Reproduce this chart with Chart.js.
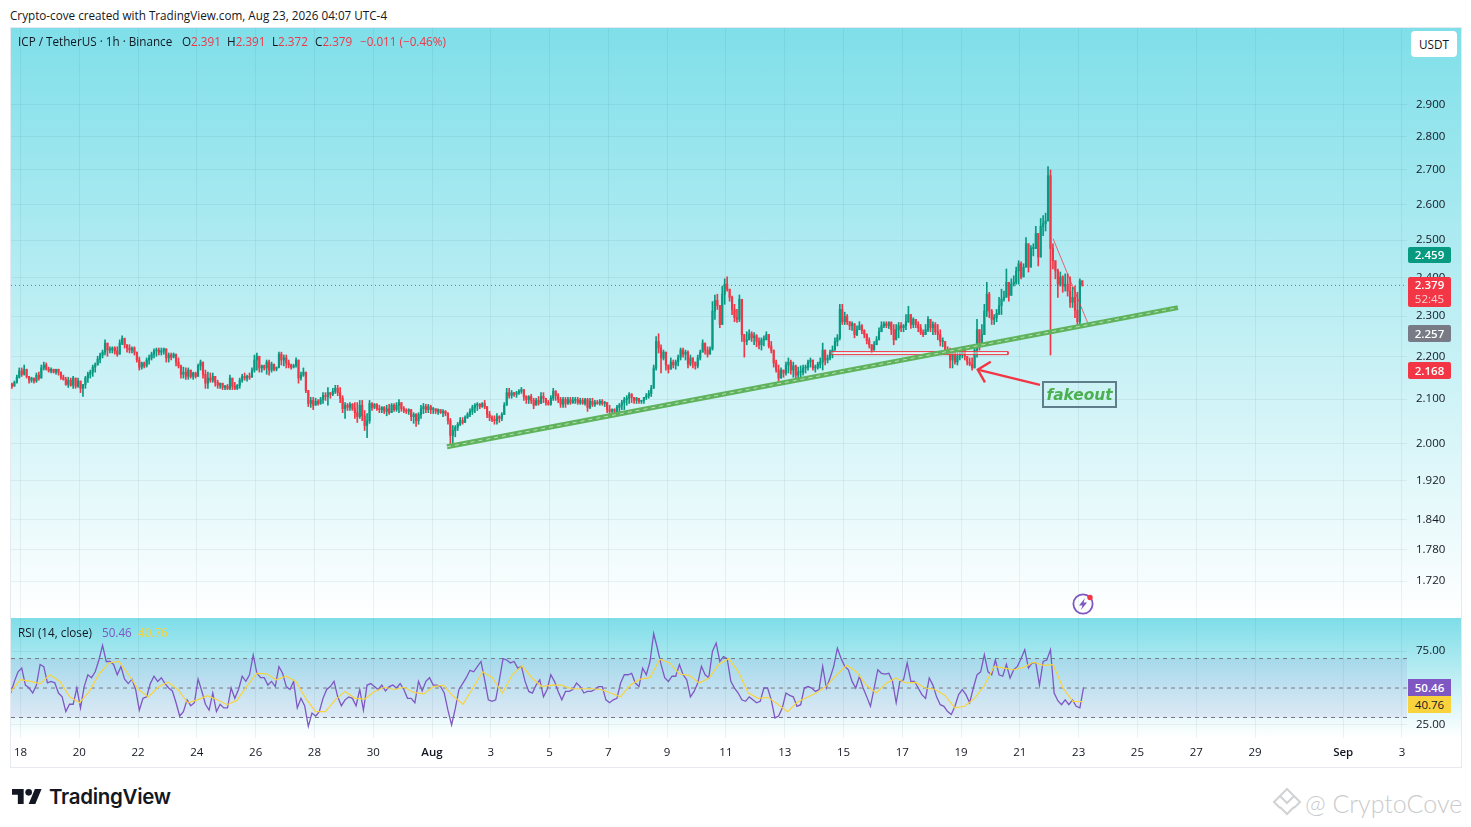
<!DOCTYPE html>
<html><head><meta charset="utf-8"><title>ICP / TetherUS</title>
<script src="https://cdn.jsdelivr.net/npm/chart.js@4"></script>
<style>
html,body{margin:0;padding:0;background:#fff;width:1471px;height:827px;overflow:hidden;font-family:"Open Sans","Noto Sans",sans-serif;color:#131722}
.abs{position:absolute;white-space:nowrap}
#frame{position:absolute;left:10px;top:27px;width:1450px;height:739px;border:1px solid #e6e9f0}
#mainBg{position:absolute;left:11px;top:28px;width:1450px;height:589px;background:linear-gradient(#7fdfe9,#ffffff)}
#rsiBg{position:absolute;left:11px;top:618px;width:1450px;height:120px;background:linear-gradient(#7edde8,#ffffff)}
canvas{display:block}
.wrap{position:absolute}
.tag{position:absolute;left:1408px;width:43px;text-align:center;color:#fff;font-size:11.5px;font-weight:600;border-radius:2px}
.red{color:#f23645}
.t{font-size:11.7px}
</style></head><body>
<div id="frame"></div><div id="mainBg"></div><div id="rsiBg"></div>
<div class="wrap" style="left:11px;top:28px;width:1450px;height:589px"><canvas id="priceChart"></canvas></div>
<div class="wrap" style="left:11px;top:618px;width:1450px;height:149px"><canvas id="rsiChart"></canvas></div>

<div class="abs t" style="left:10px;top:7px;color:#131722">Crypto-cove created with TradingView.com, Aug 23, 2026 04:07 UTC-4</div>
<div class="abs t" style="left:18px;top:33px">ICP / TetherUS · 1h · Binance</div>
<div class="abs t" style="left:182px;top:33px">O<span class="red">2.391</span></div>
<div class="abs t" style="left:227px;top:33px">H<span class="red">2.391</span></div>
<div class="abs t" style="left:272px;top:33px">L<span class="red">2.372</span></div>
<div class="abs t" style="left:315px;top:33px">C<span class="red">2.379</span></div>
<div class="abs red t" style="left:360px;top:33px">−0.011 (−0.46%)</div>
<div class="abs t" style="left:18px;top:624px">RSI (14, close)</div>
<div class="abs t" style="left:102px;top:624px;color:#7e57c2">50.46</div>
<div class="abs t" style="left:138px;top:624px;color:#f9d33d">40.76</div>

<div class="abs t" style="left:1411px;top:31px;width:46px;height:26px;line-height:26px;background:#fff;border-radius:4px;text-align:center">USDT</div>

<div class="tag" style="top:247px;height:16px;line-height:16px;background:#089981">2.459</div>
<div class="tag" style="top:277px;height:30px;background:#f23645;line-height:14px;padding-top:1px;box-sizing:border-box">2.379<br><span style="font-weight:400;color:#fbd0d4">52:45</span></div>
<div class="tag" style="top:325px;height:17px;line-height:17px;background:#787b86">2.257</div>
<div class="tag" style="top:362px;height:17px;line-height:17px;background:#f23645">2.168</div>
<div class="tag" style="top:679px;height:17px;line-height:17px;background:#7e57c2;border-radius:0">50.46</div>
<div class="tag" style="top:696px;height:17px;line-height:17px;background:#f9d33d;color:#131722;font-weight:400;border-radius:0">40.76</div>

<div class="abs" style="left:1042px;top:381px;width:71px;height:23px;border:2px solid #607d8b;text-align:center;font:italic 700 15.4px/25px 'DejaVu Sans',sans-serif;color:#4caf50">fakeout</div>

<svg class="abs" style="left:1071px;top:592px" width="26" height="24" viewBox="0 0 26 24">
<circle cx="12" cy="12" r="9.6" fill="none" stroke="#7e57c2" stroke-width="1.8"/>
<path d="M14 6 L8 13.5 H11.5 L10 18 L16 10.5 H12.5 Z" fill="#7e57c2"/>
<circle cx="19" cy="5.5" r="2.7" fill="#f23645"/></svg>

<svg class="abs" style="left:12px;top:789px" width="30" height="15" viewBox="0 4 36 18"><path fill="#131722" d="M14 22H7V11H0V4h14v18zM28 22h-8l7.5-18h8L28 22z"/><circle fill="#131722" cx="20" cy="8" r="4"/></svg>
<div class="abs" style="left:49px;top:783px;font:600 20.5px/28px Inter,sans-serif;color:#131722;letter-spacing:-.3px">TradingView</div>

<svg class="abs" style="left:1272px;top:787px" width="30" height="30" viewBox="0 0 30 30" fill="none" stroke="#d0d2d4" stroke-width="2"><path d="M15 2 L22 9 L15 16 L8 9 Z"/><path d="M8 9 L2 15 L8 21 M22 9 L28 15 L22 21"/><path d="M8 20 L15 27 L22 20"/></svg>
<div class="abs" style="left:1305px;top:786px;font:300 25px/34px Lato,'Open Sans',sans-serif;color:#c9cbcd">@ CryptoCove</div>

<script>
// Time axis: hours since Jul 18 00:00
const tickHours=[0,48,96,144,192,240,288,336,384,432,480,528,576,624,672,720,768,816,864,912,960,1008,1080,1128];
const tickLabels=["18","20","22","24","26","28","30","Aug","3","5","7","9","11","13","15","17","19","21","23","25","27","29","Sep","3"];
const monthHours=[336,1080];
const xMin=-7.76, xMax=1132.1;

const priceTicks=[2.9,2.8,2.7,2.6,2.5,2.4,2.3,2.2,2.1,2.0,1.92,1.84,1.78,1.72];
const rsiTicks=[75,25];

const firstHour=-7, candleStep=2, firstOpen=2.135;
const closes=[
2.130,2.139,2.151,2.166,2.158,2.170,2.153,2.144,2.149,2.142,
2.156,2.149,2.173,2.180,2.170,2.166,2.170,2.163,2.170,2.163,
2.151,2.146,2.134,2.144,2.132,2.149,2.130,2.142,2.125,2.134,
2.149,2.158,2.163,2.175,2.180,2.194,2.204,2.211,2.233,2.216,
2.216,2.221,2.214,2.206,2.233,2.245,2.229,2.221,2.216,2.221,
2.211,2.192,2.175,2.185,2.178,2.192,2.197,2.206,2.214,2.216,
2.211,2.214,2.219,2.197,2.204,2.199,2.206,2.187,2.178,2.158,
2.163,2.153,2.168,2.153,2.161,2.153,2.178,2.187,2.158,2.137,
2.149,2.144,2.153,2.139,2.132,2.137,2.127,2.130,2.125,2.149,
2.130,2.125,2.132,2.144,2.153,2.149,2.153,2.151,2.168,2.192,
2.201,2.173,2.178,2.173,2.187,2.168,2.182,2.170,2.175,2.206,
2.192,2.197,2.185,2.180,2.175,2.178,2.192,2.149,2.156,2.163,
2.120,2.090,2.097,2.086,2.095,2.090,2.099,2.108,2.106,2.115,
2.111,2.118,2.125,2.115,2.102,2.078,2.086,2.081,2.088,2.078,
2.069,2.060,2.086,2.062,2.040,2.051,2.090,2.081,2.088,2.078,
2.076,2.081,2.072,2.078,2.069,2.086,2.076,2.086,2.092,2.078,
2.074,2.072,2.076,2.060,2.065,2.051,2.065,2.078,2.083,2.076,
2.083,2.076,2.078,2.072,2.076,2.069,2.072,2.067,2.051,2.018,
2.029,2.036,2.043,2.051,2.047,2.058,2.065,2.072,2.081,2.086,
2.088,2.083,2.090,2.083,2.065,2.058,2.054,2.051,2.060,2.056,
2.065,2.086,2.115,2.108,2.115,2.111,2.115,2.118,2.122,2.106,
2.099,2.106,2.097,2.086,2.097,2.090,2.106,2.102,2.092,2.088,
2.102,2.118,2.108,2.099,2.088,2.099,2.090,2.099,2.092,2.097,
2.099,2.092,2.097,2.090,2.099,2.081,2.095,2.088,2.092,2.090,
2.095,2.090,2.092,2.076,2.072,2.076,2.072,2.081,2.086,2.092,
2.099,2.102,2.111,2.104,2.097,2.102,2.095,2.097,2.104,2.108,
2.113,2.125,2.173,2.237,2.221,2.197,2.211,2.180,2.170,2.187,
2.180,2.187,2.199,2.216,2.206,2.211,2.182,2.197,2.187,2.178,
2.197,2.211,2.233,2.216,2.206,2.219,2.313,2.340,2.327,2.279,
2.356,2.382,2.369,2.348,2.317,2.296,2.292,2.343,2.254,2.237,
2.241,2.256,2.246,2.251,2.237,2.229,2.241,2.241,2.254,2.226,
2.216,2.185,2.168,2.149,2.168,2.161,2.180,2.187,2.168,2.178,
2.156,2.163,2.163,2.173,2.173,2.187,2.192,2.173,2.175,2.182,
2.187,2.216,2.192,2.197,2.211,2.216,2.237,2.246,2.317,2.286,
2.299,2.286,2.276,2.281,2.254,2.266,2.276,2.264,2.254,2.239,
2.229,2.216,2.229,2.241,2.261,2.276,2.281,2.276,2.284,2.266,
2.241,2.266,2.276,2.271,2.276,2.286,2.304,2.279,2.292,2.279,
2.271,2.259,2.254,2.266,2.292,2.271,2.279,2.261,2.254,2.237,
2.237,2.216,2.211,2.192,2.211,2.187,2.201,2.206,2.216,2.201,
2.187,2.182,2.173,2.216,2.266,2.229,2.254,2.313,2.356,2.313,
2.292,2.296,2.307,2.327,2.343,2.348,2.387,2.353,2.382,2.387,
2.417,2.436,2.401,2.427,2.490,2.427,2.477,2.477,2.518,2.454,
2.538,2.546,2.553,2.683,2.477,2.444,2.417,2.382,2.401,2.377,
2.382,2.364,2.335,2.348,2.315,2.286,2.391,2.379];
const highs=[
2.137,2.142,2.156,2.173,2.173,2.180,2.163,2.151,2.151,2.149,
2.161,2.163,2.180,2.187,2.185,2.175,2.173,2.170,2.170,2.168,
2.158,2.156,2.151,2.151,2.149,2.153,2.149,2.149,2.139,2.132,
2.153,2.163,2.168,2.180,2.185,2.201,2.209,2.216,2.241,2.229,
2.224,2.224,2.224,2.224,2.241,2.251,2.241,2.229,2.229,2.224,
2.224,2.211,2.199,2.187,2.187,2.197,2.204,2.211,2.219,2.221,
2.221,2.221,2.221,2.211,2.209,2.209,2.209,2.204,2.197,2.180,
2.175,2.173,2.173,2.163,2.163,2.163,2.182,2.192,2.180,2.168,
2.163,2.161,2.161,2.149,2.144,2.137,2.134,2.132,2.134,2.156,
2.144,2.139,2.134,2.149,2.158,2.161,2.156,2.161,2.173,2.204,
2.209,2.187,2.180,2.180,2.192,2.192,2.187,2.173,2.175,2.211,
2.211,2.204,2.204,2.192,2.182,2.182,2.197,2.192,2.163,2.173,
2.156,2.115,2.104,2.104,2.102,2.099,2.104,2.115,2.115,2.127,
2.115,2.125,2.132,2.132,2.127,2.108,2.092,2.090,2.092,2.090,
2.092,2.092,2.097,2.097,2.074,2.067,2.097,2.092,2.090,2.090,
2.086,2.083,2.083,2.086,2.088,2.090,2.090,2.092,2.099,2.090,
2.083,2.078,2.078,2.074,2.069,2.067,2.069,2.086,2.090,2.088,
2.088,2.086,2.081,2.078,2.078,2.076,2.076,2.074,2.069,2.056,
2.040,2.040,2.047,2.058,2.058,2.062,2.069,2.078,2.086,2.090,
2.092,2.090,2.092,2.097,2.083,2.072,2.062,2.062,2.067,2.062,
2.069,2.092,2.125,2.125,2.120,2.115,2.118,2.122,2.127,2.118,
2.108,2.108,2.111,2.102,2.102,2.106,2.115,2.115,2.102,2.097,
2.108,2.125,2.120,2.113,2.104,2.104,2.104,2.104,2.104,2.104,
2.104,2.104,2.102,2.102,2.102,2.102,2.102,2.102,2.097,2.097,
2.099,2.099,2.095,2.090,2.086,2.078,2.078,2.086,2.090,2.097,
2.104,2.108,2.115,2.113,2.104,2.104,2.099,2.097,2.102,2.113,
2.120,2.132,2.180,2.249,2.256,2.229,2.216,2.192,2.175,2.197,
2.192,2.192,2.204,2.221,2.221,2.216,2.214,2.204,2.192,2.187,
2.204,2.216,2.241,2.229,2.224,2.224,2.337,2.354,2.356,2.322,
2.377,2.396,2.401,2.369,2.351,2.330,2.317,2.354,2.274,2.246,
2.261,2.266,2.261,2.259,2.254,2.246,2.246,2.251,2.261,2.254,
2.237,2.209,2.192,2.180,2.173,2.168,2.187,2.197,2.192,2.187,
2.180,2.175,2.178,2.180,2.180,2.192,2.197,2.187,2.180,2.187,
2.197,2.233,2.211,2.204,2.216,2.226,2.246,2.254,2.330,2.330,
2.310,2.304,2.286,2.286,2.271,2.276,2.286,2.279,2.266,2.256,
2.246,2.229,2.237,2.249,2.271,2.286,2.286,2.286,2.286,2.286,
2.279,2.279,2.284,2.284,2.279,2.304,2.325,2.296,2.296,2.292,
2.286,2.279,2.266,2.279,2.299,2.292,2.286,2.284,2.279,2.266,
2.246,2.231,2.224,2.221,2.216,2.211,2.211,2.216,2.224,2.216,
2.197,2.197,2.197,2.229,2.292,2.254,2.279,2.330,2.387,2.361,
2.317,2.304,2.317,2.348,2.369,2.364,2.422,2.387,2.396,2.404,
2.427,2.444,2.441,2.436,2.507,2.490,2.485,2.490,2.538,2.518,
2.560,2.568,2.575,2.710,2.700,2.490,2.444,2.422,2.414,2.404,
2.409,2.409,2.401,2.374,2.377,2.361,2.396,2.391];
const lows=[
2.125,2.132,2.137,2.149,2.153,2.156,2.149,2.137,2.139,2.137,
2.139,2.144,2.156,2.168,2.168,2.163,2.161,2.161,2.158,2.156,
2.146,2.144,2.132,2.127,2.130,2.125,2.125,2.127,2.115,2.106,
2.125,2.139,2.149,2.153,2.163,2.180,2.185,2.197,2.204,2.201,
2.209,2.209,2.206,2.201,2.216,2.229,2.221,2.211,2.209,2.209,
2.204,2.187,2.168,2.170,2.173,2.175,2.182,2.192,2.197,2.201,
2.204,2.204,2.206,2.187,2.187,2.192,2.197,2.178,2.173,2.149,
2.149,2.146,2.146,2.149,2.146,2.149,2.163,2.168,2.149,2.125,
2.125,2.139,2.139,2.130,2.125,2.125,2.122,2.122,2.122,2.122,
2.122,2.122,2.122,2.125,2.139,2.144,2.142,2.146,2.153,2.163,
2.168,2.163,2.163,2.168,2.158,2.156,2.163,2.166,2.166,2.173,
2.180,2.178,2.173,2.173,2.170,2.173,2.175,2.137,2.144,2.153,
2.115,2.083,2.081,2.076,2.086,2.086,2.088,2.090,2.097,2.086,
2.102,2.108,2.113,2.108,2.092,2.069,2.056,2.074,2.074,2.074,
2.056,2.047,2.056,2.051,2.029,2.013,2.045,2.074,2.078,2.074,
2.069,2.069,2.067,2.062,2.065,2.069,2.072,2.072,2.069,2.072,
2.069,2.067,2.065,2.051,2.045,2.038,2.043,2.056,2.067,2.069,
2.069,2.067,2.067,2.067,2.065,2.067,2.060,2.062,2.043,1.993,
1.996,2.015,2.029,2.040,2.043,2.047,2.056,2.060,2.065,2.069,
2.074,2.078,2.081,2.078,2.058,2.051,2.049,2.043,2.043,2.047,
2.051,2.069,2.086,2.102,2.102,2.106,2.104,2.111,2.113,2.097,
2.090,2.090,2.090,2.078,2.086,2.086,2.092,2.092,2.086,2.086,
2.086,2.097,2.097,2.092,2.081,2.081,2.081,2.088,2.088,2.090,
2.090,2.088,2.088,2.088,2.086,2.072,2.078,2.083,2.083,2.088,
2.086,2.086,2.083,2.069,2.062,2.067,2.069,2.069,2.069,2.076,
2.076,2.086,2.090,2.092,2.090,2.090,2.090,2.090,2.090,2.099,
2.102,2.106,2.127,2.168,2.209,2.161,2.192,2.168,2.161,2.170,
2.173,2.170,2.178,2.192,2.199,2.192,2.173,2.178,2.173,2.170,
2.173,2.192,2.216,2.206,2.199,2.206,2.216,2.292,2.317,2.271,
2.292,2.330,2.364,2.338,2.304,2.286,2.284,2.286,2.237,2.199,
2.229,2.241,2.237,2.229,2.224,2.219,2.216,2.226,2.241,2.221,
2.209,2.175,2.163,2.137,2.149,2.151,2.156,2.161,2.158,2.151,
2.149,2.144,2.149,2.156,2.161,2.168,2.175,2.168,2.163,2.170,
2.173,2.168,2.180,2.185,2.192,2.197,2.216,2.226,2.241,2.279,
2.279,2.279,2.266,2.264,2.246,2.251,2.266,2.256,2.246,2.231,
2.221,2.209,2.216,2.229,2.241,2.266,2.271,2.271,2.269,2.254,
2.229,2.241,2.246,2.261,2.261,2.266,2.284,2.269,2.271,2.271,
2.261,2.254,2.249,2.254,2.261,2.261,2.254,2.254,2.241,2.226,
2.224,2.211,2.206,2.173,2.173,2.182,2.180,2.192,2.197,2.192,
2.180,2.178,2.168,2.180,2.199,2.216,2.224,2.279,2.299,2.296,
2.279,2.279,2.286,2.304,2.304,2.338,2.356,2.338,2.361,2.377,
2.382,2.382,2.396,2.414,2.444,2.414,2.444,2.457,2.485,2.430,
2.505,2.512,2.525,2.560,2.204,2.422,2.396,2.348,2.377,2.361,
2.364,2.351,2.322,2.322,2.296,2.279,2.279,2.377];

const rsiFirstHour=-8, rsiStep=3;
const rsiValues=[46.6,54.5,61,63.5,52,50,46.6,52,66,64.5,53.5,54.5,53.5,46.6,44,34,39,39,50,36.5,
51,59,57,61,69,79,68,68,66,59,64.5,56,53,56,49,35,43,44,53,58,
54.5,57,53,50,48,40,31,34,42,38,40,56,48,39,35,46.6,34,39,36.5,36.5,
50,43,49,58,54.5,59,72.5,60,57,57,52,54.5,51,64.5,60,51,49,54.5,36.5,43,
38,24,33,31,34,43,49,51,54.5,44,38,42,44,43,38,49,35,52,53,51,
49,52,48,51,52,50,53,49,43,43,40,54.5,48,54.5,57,52,52,51,46.6,35,
25,36,49,53,57,62,61,64.5,68,55.6,42,41,42,55.6,70,69,67,68,63.5,64.7,
54.5,47.7,46.6,52,55.6,44,49,59,54.5,47.7,42,47.7,47.7,49,53.4,51,46.6,47.7,47.7,49,
51,51,42,40,42,43,53.4,59,59,60,53.4,51,63.5,59,68,87,77,66,57,54.5,
58,58,66,59,55.6,44,47.7,53.4,64.7,59,57,75,80.5,68,71.4,70,54.5,50,46.6,42,
41,44,42,40,41,50,50,42,29.7,31,36.5,46.6,45,44,37.6,38.7,50,51,50,47.7,
49,64.7,50,56.8,64.7,77,70,64.7,62.4,54.5,50,58,50,44,37.6,50,62.4,60,59.5,60,
54.5,40,54.5,55.6,67,54.5,54.5,50,45.5,43,56.8,52,44,38.7,37.6,34,32,37.6,45.5,49,
45.5,40,50,59,61,72.6,61,59,69,59,58,66,56.8,62.4,64.7,70,76,63.5,67,67,
52,68,69,76,46.6,41.4,38.7,42,38.7,42,37.6,36.5,50.46];

const maFirstHour=-8, maStep=8.03;
const rsiMaValues=[47.7,55.6,54.5,53,59,54.5,44,40,47.7,59.7,67,68,59,49,44,50.7,54,49,40,42,
44.8,42,38.7,41.6,51,60,59.7,55.6,58,54.4,43,34,34,42,47.7,43,42.5,47.7,50.5,49,
50.5,47,46,51,52,44.4,39,50,61,56.8,46.6,59,65,56.8,51,52,52,49.5,49.5,49.5,
49,46.6,44,52,56,57,69.6,67,59.5,58.6,53.4,56.8,66,70,61,46.6,43,43.7,39,34,
40.5,43.7,47,51.6,59,65.4,61,52,46.6,53,56.8,53.4,53.8,50,49,45,36.5,37.6,43,51.6,
64.7,63.5,62.4,64,67.6,65.4,65.8,50,41,40.76];
const rsiLevels=[70,50,30];

const lastPrice=2.379;
const trendHours=[348.2,945.1], trendPrices=[1.993,2.3216];
const diagHours=[843.1,871.7], diagPrices=[2.504,2.281];
const boxHours=[661.8,806.3,806.3,661.8,661.8], boxPrices=[2.2123,2.2123,2.205,2.205,2.2123];
const arrowHours=[832.4,781.6], arrowPrices=[2.133,2.169];
const headHours=[792.2,781.6,787.5], headPrices=[2.188,2.169,2.139];

const GREEN='#089981', RED='#f23645', GRID='rgba(30,70,90,0.07)';
const pts=(xs,ys)=>xs.map((x,i)=>({x,y:ys[i]}));

const xScale=(labels)=>({type:'linear',min:xMin,max:xMax,offset:false,
  afterBuildTicks:s=>{s.ticks=tickHours.map(v=>({value:v}));},
  grid:{color:GRID,lineWidth:1,drawTicks:false,offset:false},border:{display:false},
  ticks:labels?{display:true,autoSkip:false,maxRotation:0,minRotation:0,padding:8,color:'#131722',
    font:c=>({family:'"Open Sans","Noto Sans",sans-serif',size:11.5,weight:(c.tick&&monthHours.includes(c.tick.value))?'600':'400'}),
    callback:v=>tickLabels[tickHours.indexOf(v)]}:{display:false},
  afterFit:s=>{s.height=labels?29:0;s.paddingLeft=s.paddingRight=0;}});
const yFont={family:'"Open Sans","Noto Sans",sans-serif',size:11.5};
const yFit=s=>{s.width=54;s.paddingTop=s.paddingBottom=0;};

const opens=closes.map((c,i)=>i===0?firstOpen:closes[i-1]);
const barColors=closes.map((c,i)=>c>=opens[i]?GREEN:RED);
const hours=closes.map((c,i)=>firstHour+i*candleStep);
const wickData=hours.map((x,i)=>({x,y:[Math.min(lows[i],opens[i],closes[i]),Math.max(highs[i],opens[i],closes[i])]}));
const bodyData=hours.map((x,i)=>({x,y:[Math.min(opens[i],closes[i]),Math.max(opens[i],closes[i])]}));

const lineDs=(data,color,width,extra)=>Object.assign({type:'line',data,borderColor:color,borderWidth:width,pointRadius:0,tension:0,fill:false,order:0},extra||{});

new Chart(document.getElementById('priceChart'),{type:'bar',
  data:{datasets:[
    lineDs(pts(arrowHours,arrowPrices),RED,2.4),
    lineDs(pts(headHours,headPrices),RED,2.4),
    lineDs(pts(trendHours,trendPrices),'rgba(255,255,255,.55)',1,{borderDash:[4,4]}),
    lineDs(pts(trendHours,trendPrices),'#5fb35c',5,{order:1}),
    lineDs(pts(diagHours,diagPrices),'rgba(242,54,69,.75)',1,{order:2}),
    lineDs(pts(boxHours,boxPrices),RED,1,{order:2,fill:'shape',backgroundColor:'rgba(255,255,255,.45)'}),
    lineDs(pts([xMin,xMax],[lastPrice,lastPrice]),RED,1,{borderDash:[1,3],order:2}),
    {type:'bar',data:bodyData,backgroundColor:barColors,barThickness:1.5,grouped:false,minBarLength:1,order:3},
    {type:'bar',data:wickData,backgroundColor:barColors,barThickness:1,grouped:false,order:4}
  ]},
  options:{responsive:true,maintainAspectRatio:false,animation:false,events:[],
    layout:{padding:0,autoPadding:false},
    plugins:{legend:{display:false},tooltip:{enabled:false}},
    scales:{x:xScale(false),
      y:{type:'logarithmic',position:'right',min:1.6538,max:3.1544,
        afterBuildTicks:s=>{s.ticks=priceTicks.map(v=>({value:v}));},
        afterFit:yFit,
        grid:{color:GRID,drawTicks:false},border:{display:false},
        ticks:{padding:9,color:'#131722',font:yFont,autoSkip:false,callback:v=>Number(v).toFixed(3)}}}}});

new Chart(document.getElementById('rsiChart'),{type:'line',
  data:{datasets:[
    lineDs(pts(rsiMaValues.map((v,i)=>maFirstHour+i*maStep),rsiMaValues),'#f9d33d',1.2),
    lineDs(pts(rsiValues.map((v,i)=>rsiFirstHour+i*rsiStep),rsiValues),'#7e57c2',1.3,{order:1}),
    lineDs(pts([xMin,xMax],[rsiLevels[1],rsiLevels[1]]),'#787b86',1,{borderDash:[4,4],order:2}),
    lineDs(pts([xMin,xMax],[rsiLevels[0],rsiLevels[0]]),'#787b86',1,{borderDash:[4,4],order:2,fill:'+1',backgroundColor:'rgba(126,87,194,.1)'}),
    lineDs(pts([xMin,xMax],[rsiLevels[2],rsiLevels[2]]),'#787b86',1,{borderDash:[4,4],order:2})
  ]},
  options:{responsive:true,maintainAspectRatio:false,animation:false,events:[],
    layout:{padding:0,autoPadding:false},
    plugins:{legend:{display:false},tooltip:{enabled:false}},
    scales:{x:xScale(true),
      y:{type:'linear',position:'right',min:16.1,max:97.5,
        afterBuildTicks:s=>{s.ticks=rsiTicks.map(v=>({value:v}));},
        afterFit:yFit,
        grid:{color:GRID,drawTicks:false},border:{display:false},
        ticks:{padding:9,color:'#131722',font:yFont,callback:v=>Number(v).toFixed(2)}}}}});
</script>
</body></html>
